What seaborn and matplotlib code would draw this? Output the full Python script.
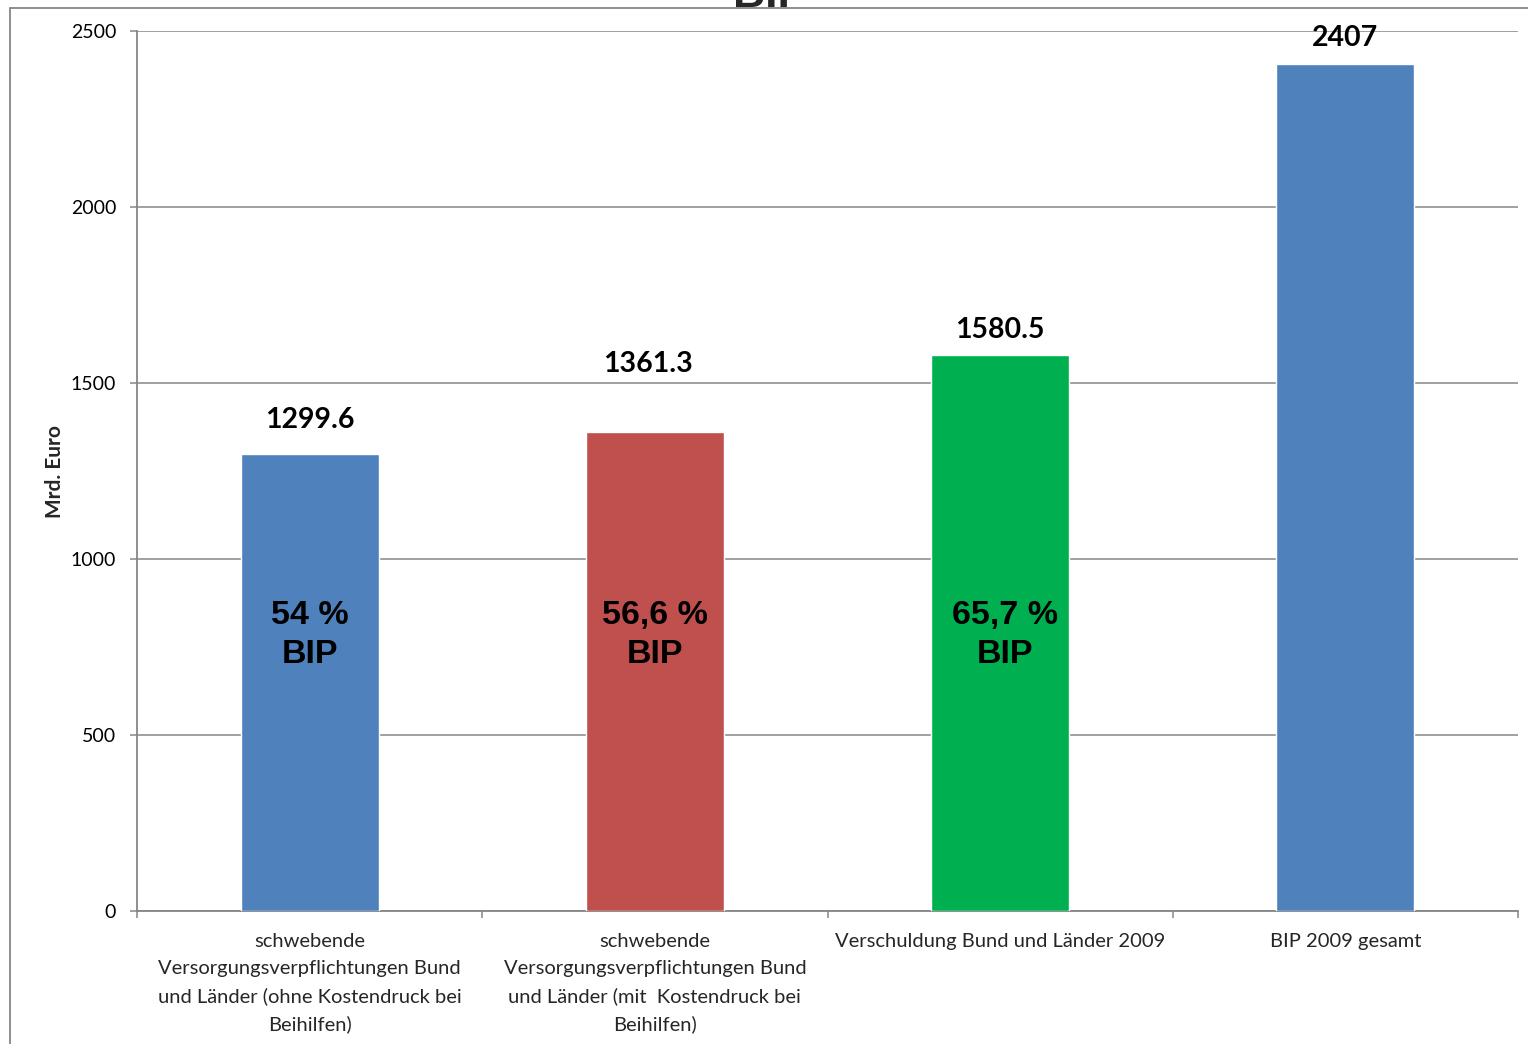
import matplotlib
matplotlib.use("Agg")
import matplotlib.pyplot as plt
from matplotlib.lines import Line2D
import seaborn as sns
import pandas as pd

# Chart data
categories = [
    "schwebende\nVersorgungsverpflichtungen Bund\nund Länder (ohne Kostendruck bei\nBeihilfen)",
    "schwebende\nVersorgungsverpflichtungen Bund\nund Länder (mit  Kostendruck bei\nBeihilfen)",
    "Verschuldung Bund und Länder 2009",
    "BIP 2009 gesamt",
]
values = [1299.6, 1361.3, 1580.5, 2407]
value_labels = ["1299.6", "1361.3", "1580.5", "2407"]
share_labels = ["54 %\nBIP", "56,6 %\nBIP", "65,7 %\nBIP", None]
yticks = [0, 500, 1000, 1500, 2000, 2500]

bar_colors = ["#4F81BD", "#C0504D", "#00B050", "#4F81BD"]
label_offsets_px = [34, 68, 25, 26]     # gap between bar top and value label centre
label_dx = [0, -0.02, 0, 0]
share_dx = [0, 0, 0.015, 0]
grid_color = "#868686"

sns.set_theme(style="white")
plt.rcParams["font.family"] = ["Lato", "DejaVu Sans"]

df = pd.DataFrame({"Kategorie": categories, "Wert": values,
                   "Farbe": [str(i) for i in range(len(values))]})

fig = plt.figure(figsize=(15.28, 10.44), dpi=100)
ax = fig.add_axes([137 / 1528, 133 / 1044, (1518 - 137) / 1528, (911 - 31) / 1044])

sns.barplot(data=df, x="Kategorie", y="Wert", hue="Farbe",
            palette=bar_colors, width=0.4, dodge=False, legend=False,
            saturation=1, ax=ax, zorder=3)

ax.set_ylim(0, 2500)
ax.set_xlim(-0.5, len(values) - 0.5)
ax.set_yticks(yticks)
ax.set_yticklabels([str(t) for t in yticks], fontsize=14, color="black")
ax.yaxis.grid(True, color=grid_color, linewidth=1.1, zorder=0)
ax.set_axisbelow(True)

ax.set_xlabel("")
ax.set_ylabel("Mrd. Euro", fontsize=15, fontweight="bold", labelpad=4)

# category labels centred under bars, tick marks at category boundaries
ax.set_xticks(range(len(categories)))
ax.set_xticklabels(categories, fontsize=14.5, linespacing=1.68, va="top")
ax.tick_params(axis="x", which="major", length=0, pad=16)
ax.set_xticks([i - 0.5 for i in range(len(categories) + 1)], minor=True)
ax.tick_params(axis="x", which="minor", length=5, width=1.1, color=grid_color,
               direction="out", bottom=True)
ax.tick_params(axis="y", which="major", length=5, width=1.1, color=grid_color,
               direction="out", left=True, pad=10)

for side in ["top", "right"]:
    ax.spines[side].set_visible(False)
for side in ["left", "bottom"]:
    ax.spines[side].set_color(grid_color)
    ax.spines[side].set_linewidth(1.3)

# value labels above bars
for i, (v, lab) in enumerate(zip(values, value_labels)):
    ax.annotate(lab, xy=(i + label_dx[i], v), xytext=(0, label_offsets_px[i] * 0.72),
                textcoords="offset points", ha="center", va="center",
                fontsize=20.5, fontweight="bold", color="black", zorder=5)

# share of GDP inside bars
for i, lab in enumerate(share_labels):
    if lab:
        ax.text(i + share_dx[i], 784, lab, ha="center", va="center",
                fontsize=24.5, fontweight="bold", linespacing=1.35,
                family=["Liberation Sans", "DejaVu Sans"], color="black", zorder=5)

# chart area frame and clipped title
fig.add_artist(Line2D([10 / 1528, 1.0], [1 - 8 / 1044, 1 - 8 / 1044],
                      transform=fig.transFigure, color=grid_color, linewidth=1.3))
fig.add_artist(Line2D([10 / 1528, 10 / 1528], [0.0, 1 - 8 / 1044],
                      transform=fig.transFigure, color=grid_color, linewidth=1.3))
fig.text(770 / 1528, 1 - 7 / 1044, "BIP", ha="center", va="baseline",
         fontsize=32, fontweight="bold", family=["Liberation Sans", "DejaVu Sans"])

fig.savefig("out.png", dpi=100, facecolor="white")
